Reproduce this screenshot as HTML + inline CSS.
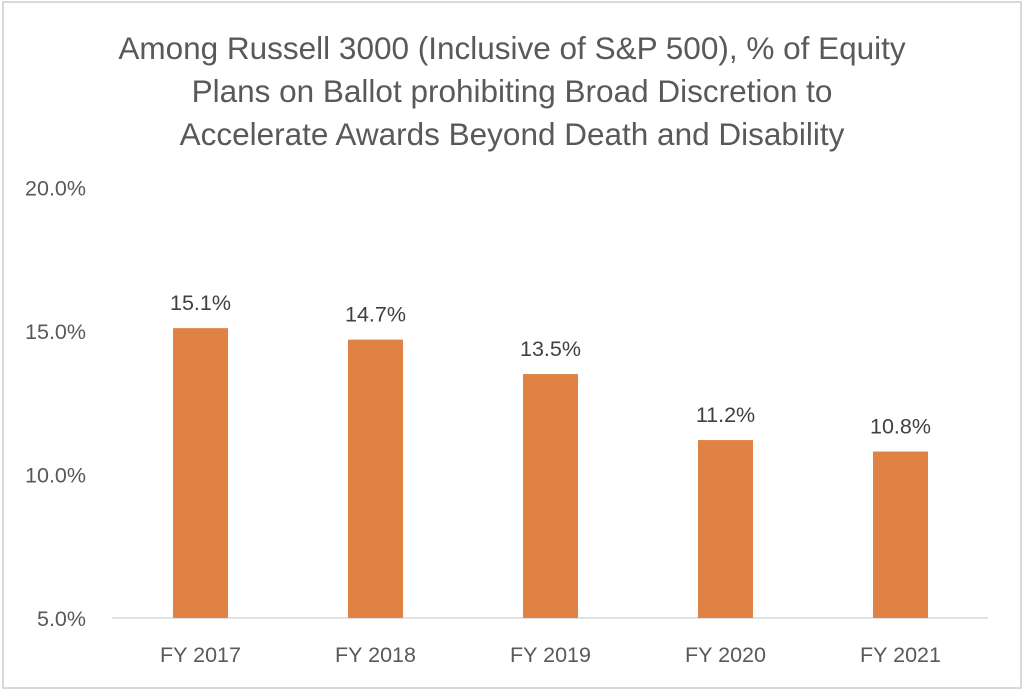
<!DOCTYPE html>
<html><head><meta charset="utf-8"><style>
html,body{margin:0;padding:0;background:#fff;}
#frame{position:absolute;left:2px;top:1px;width:1016px;height:684px;border:2px solid #d9d9d9;}
svg{position:absolute;left:0;top:0;}
text{font-family:"Liberation Sans",sans-serif;fill:#595959;}
</style></head><body>
<div id="frame"></div>
<svg width="1024" height="690" id="chart">
<g>
<text x="512" y="59" font-size="31.5" text-anchor="middle">Among Russell 3000 (Inclusive of S&amp;P 500), % of Equity</text>
<text x="512" y="102" font-size="31.5" text-anchor="middle">Plans on Ballot prohibiting Broad Discretion to</text>
<text x="512" y="145" font-size="31.5" text-anchor="middle">Accelerate Awards Beyond Death and Disability</text>
</g>
<line x1="112" y1="618" x2="988" y2="618" stroke="#d9d9d9" stroke-width="1.5"/>
</svg>
<script>
const categories=["FY 2017","FY 2018","FY 2019","FY 2020","FY 2021"];
const values=[15.1,14.7,13.5,11.2,10.8];
const valueLabels=["15.1%","14.7%","13.5%","11.2%","10.8%"];
const yTicks=[5,10,15,20];
const yTickLabels=["5.0%","10.0%","15.0%","20.0%"];
const svg=document.getElementById('chart');
const NS='http://www.w3.org/2000/svg';
const y0=618,pxPer=28.7,yMin=5,left=113,band=175,bw=55;
function yScale(v){return y0-(v-yMin)*pxPer;}
function xScale(i){return left+band*i+band/2;}
function mk(tag,attrs,txt){const e=document.createElementNS(NS,tag);for(const k in attrs)e.setAttribute(k,attrs[k]);if(txt!=null)e.textContent=txt;svg.appendChild(e);return e;}
yTicks.forEach((t,i)=>{
const e=mk('text',{x:86,y:yScale(t)+8,'font-size':21.5,'text-anchor':'end'},yTickLabels[i]);


});
categories.forEach((c,i)=>{
const cx=xScale(i),top=yScale(values[i]);
const r=mk('rect',{x:cx-bw/2,y:top,width:bw,height:y0-top,fill:'#df8244'});


const l=mk('text',{x:cx,y:top-18,'font-size':21.5,'text-anchor':'middle',style:'fill:#404040'},valueLabels[i]);


const xl=mk('text',{x:cx,y:662,'font-size':21.5,'text-anchor':'middle'},c);


});
</script>
</body></html>
